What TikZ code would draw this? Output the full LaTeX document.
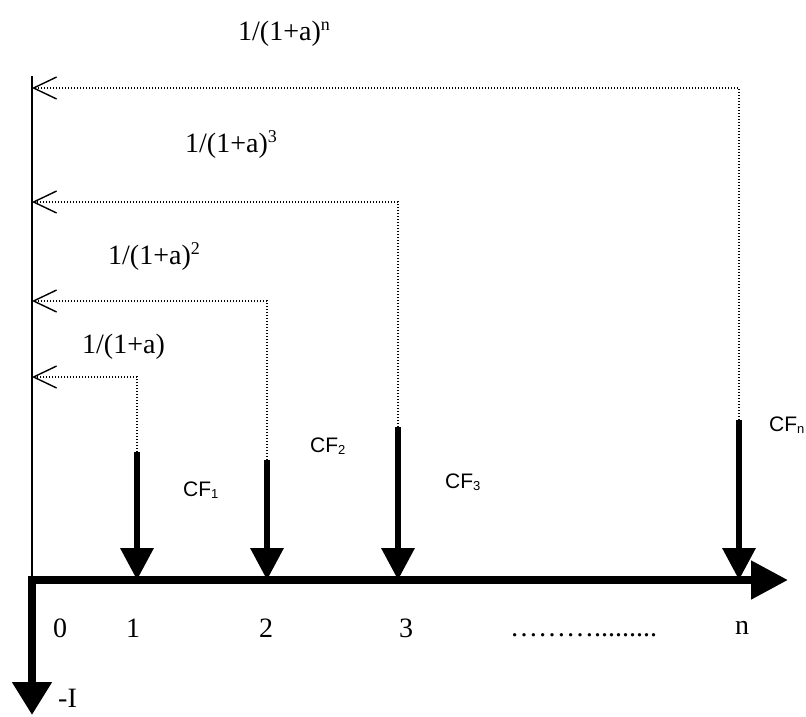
\documentclass[tikz,border=0pt]{standalone}
\usepackage{fontspec}
\setmainfont{Liberation Serif}
\newfontfamily\arialf{Liberation Sans}
\usetikzlibrary{arrows.meta}
\newcommand{\mysup}[1]{\raisebox{10pt}{\fontsize{18}{18}\selectfont #1}}
\newcommand{\mysub}[1]{\raisebox{-2.5pt}{\fontsize{13}{13}\selectfont #1}}
\begin{document}
\begin{tikzpicture}[x=1pt,y=-1pt,
  serlab/.style={inner sep=0pt,font=\fontsize{28}{30}\selectfont},
  cflab/.style={inner sep=0pt,anchor=west,font=\arialf\fontsize{21}{23}\selectfont},
  discline/.style={line width=1.2pt,dash pattern=on 1pt off 2pt,
     -{Straight Barb[length=23pt,width=22pt,line width=1.4pt]}},
  cfarrow/.style={line width=6.5pt,-{Triangle[length=32pt,width=32pt]}},
  axisarrow/.style={line width=8pt,-{Triangle[length=37pt,width=37pt]}},
  thinline/.style={line width=1.6pt}]
\useasboundingbox (0,0) rectangle (806,716);
\fill[white] (0,0) rectangle (806,716);
% coordinates
\coordinate (vtop) at (32,76);
\coordinate (origin) at (32,580);
\coordinate (axstart) at (28,580);
\coordinate (axend) at (788,580);
\coordinate (itop) at (32,576);
\coordinate (iend) at (32,715);
\coordinate (b1) at (137,452); \coordinate (t1) at (137,580); \coordinate (e1) at (32,377);
\coordinate (b2) at (267,460); \coordinate (t2) at (267,580); \coordinate (e2) at (32,301);
\coordinate (b3) at (398,427); \coordinate (t3) at (398,580); \coordinate (e3) at (32,202);
\coordinate (bn) at (739,420); \coordinate (tn) at (739,580); \coordinate (en) at (32,88);
% thin vertical line
\draw[thinline] (vtop) -- (origin);
% discount connectors
\draw[discline] (b1) |- (e1);
\draw[discline] (b2) |- (e2);
\draw[discline] (b3) |- (e3);
\draw[discline] (bn) |- (en);
% cash flow arrows
\draw[cfarrow] (b1) -- (t1);
\draw[cfarrow] (b2) -- (t2);
\draw[cfarrow] (b3) -- (t3);
\draw[cfarrow] (bn) -- (tn);
% axes
\draw[axisarrow] (axstart) -- (axend);
\draw[line width=8pt,-{Triangle[length=33pt,width=38pt]}] (itop) -- (iend);
% discount labels
\node[serlab,anchor=base west] (ln) at (238,40) {1/(1+a)\mysup{n}};
\node[serlab,anchor=base west] (l3) at (185,152) {1/(1+a)\mysup{3}};
\node[serlab,anchor=base west] (l2) at (108,264) {1/(1+a)\mysup{2}};
\node[serlab,anchor=base west] (l1) at (82,353) {1/(1+a)};
% CF labels
\node[cflab,anchor=base west] (cf1) at (183,496) {CF\mysub{1}};
\node[cflab,anchor=base west] (cf2) at (310,452) {CF\mysub{2}};
\node[cflab,anchor=base west] (cf3) at (445,488) {CF\mysub{3}};
\node[cflab,anchor=base west] (cfn) at (769,431) {CF\mysub{n}};
% time labels
\node[serlab] (p0) at (60,628) {0};
\node[serlab] (p1) at (133,628) {1};
\node[serlab] (p2) at (266,628) {2};
\node[serlab] (p3) at (406,628) {3};
\node[serlab] (pn) at (742,628) {n};
\node[serlab,anchor=base west] (dots) at (510,636) {……….........};
\node[serlab,anchor=west] (mi) at (58,698) {-I};
\end{tikzpicture}
\end{document}
